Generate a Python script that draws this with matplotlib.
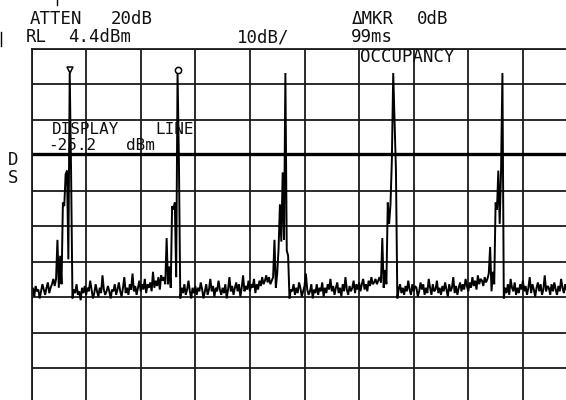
import numpy as np
import matplotlib.pyplot as plt
from matplotlib.lines import Line2D

# analyzer settings
ref_level = 4.4        # dBm, top graticule line
db_per_div = 10
display_line = -25.2   # dBm
n_div = 10
n_points = 401

# swept trace in dBm, one value per sweep point (0..400)
trace_dbm = [
    -64.5, -63.0, -65.5, -62.5, -64.0, -63.5, -66.0, -64.0, -62.0, -63.5,
    -65.0, -63.0, -61.5, -64.5, -63.0, -62.0, -60.5, -62.5, -60.5, -49.5,
    -63.0, -54.0, -62.0, -39.0, -40.0, -31.0, -30.0, -55.0, -2.5, -30.5,
    -66.0, -63.5, -64.5, -62.0, -65.0, -64.0, -66.5, -63.0, -64.5, -62.5,
    -65.0, -63.0, -64.0, -61.0, -63.5, -66.0, -64.5, -62.0, -64.0, -65.5,
    -63.0, -64.5, -59.5, -63.5, -65.0, -64.0, -62.5, -64.0, -66.0, -63.5,
    -64.0, -62.0, -65.0, -63.5, -61.5, -64.0, -65.5, -63.0, -60.0, -64.5,
    -63.0, -65.0, -62.0, -63.5, -59.0, -64.0, -62.5, -65.0, -63.0, -61.0,
    -64.0, -62.0, -63.5, -60.5, -64.5, -62.0, -63.0, -61.5, -64.0, -58.5,
    -63.0, -61.0, -62.5, -60.0, -63.5, -59.5, -61.0, -60.0, -62.0, -49.0,
    -62.0, -57.0, -63.0, -40.0, -41.0, -39.0, -60.0, -2.5, -27.5, -66.0,
    -63.0, -64.5, -62.0, -65.0, -63.5, -61.0, -64.0, -66.0, -63.0, -64.5,
    -62.5, -65.0, -63.0, -64.0, -61.5, -63.5, -66.0, -64.0, -62.0, -65.0,
    -63.5, -60.5, -64.0, -62.5, -65.5, -63.0, -64.0, -61.0, -63.5, -65.0,
    -63.0, -64.5, -62.0, -66.0, -63.5, -60.0, -64.0, -62.5, -65.0, -63.0,
    -61.5, -64.0, -62.0, -65.5, -63.0, -59.5, -64.0, -62.5, -63.5, -61.0,
    -64.0, -62.0, -63.0, -60.5, -64.5, -62.0, -63.5, -61.0, -62.5, -60.0,
    -62.0, -61.0, -59.5, -61.5, -60.0, -62.0, -61.0, -60.0, -49.5, -63.0,
    -59.0, -52.0, -39.5, -50.0, -30.5, -49.5, -2.5, -52.5, -54.0, -66.0,
    -63.5, -64.0, -62.0, -65.0, -63.0, -64.5, -61.5, -63.0, -65.5, -64.0,
    -62.5, -59.0, -63.5, -65.0, -64.0, -62.0, -66.0, -63.5, -64.5, -62.0,
    -65.0, -63.0, -64.0, -61.5, -65.5, -63.0, -64.5, -62.0, -63.5, -60.5,
    -64.0, -62.5, -65.0, -63.0, -61.5, -64.5, -63.0, -65.5, -62.0, -64.0,
    -60.0, -63.5, -65.0, -62.5, -64.0, -63.0, -61.0, -64.5, -62.0, -63.5,
    -61.5, -64.0, -62.0, -60.5, -63.5, -62.0, -64.0, -61.0, -62.5, -60.0,
    -62.0, -61.5, -60.5, -62.0, -61.0, -60.0, -61.5, -49.0, -63.0, -58.0,
    -62.0, -39.0, -45.0, -39.5, -27.0, -2.5, -16.0, -30.0, -66.0, -63.5,
    -62.0, -64.5, -63.0, -65.0, -62.5, -64.0, -61.0, -63.5, -65.0, -62.0,
    -64.0, -62.5, -63.0, -65.5, -64.0, -61.5, -63.5, -62.0, -65.0, -63.0,
    -64.5, -60.5, -63.0, -65.0, -62.0, -64.0, -63.5, -61.0, -64.5, -63.0,
    -65.0, -62.5, -64.0, -61.5, -63.5, -65.5, -62.0, -64.0, -63.0, -60.0,
    -64.5, -62.5, -65.0, -63.0, -61.5, -64.0, -62.0, -63.5, -60.5, -62.5,
    -64.0, -61.5, -63.0, -60.0, -62.5, -61.0, -63.5, -59.5, -62.0, -60.5,
    -61.0, -62.5, -60.0, -61.5, -60.5, -59.0, -51.5, -64.0, -58.5, -62.0,
    -39.0, -41.0, -30.0, -45.0, -30.0, -2.5, -66.0, -63.0, -64.5, -62.0,
    -65.0, -60.5, -63.0, -64.0, -61.5, -65.0, -63.0, -64.5, -62.0, -63.5,
    -61.0, -64.0, -62.5, -65.0, -63.0, -60.0, -64.5, -62.0, -63.5, -65.5,
    -63.0, -61.5, -64.0, -62.0, -65.0, -63.5, -59.5, -64.0, -62.5, -63.0,
    -65.0, -62.0, -64.0, -61.5, -63.5, -65.0, -62.5, -64.0, -60.5, -63.0,
    -64.5, -62.0, -63.5, -65.0, -62.0, -64.0, -63.0, -61.5, -64.0, -62.5,
    -63.5,
]

# delta marker pair (sweep point index) and their symbols
marker_idx = [28, 107]
marker_sym = ['v', 'o']

# annotation block: (text, x_center_px, baseline_px, size)
header_words = [
    ('ATTEN', 55.5, 24.3, 12.5), ('20dB', 131.5, 24.3, 12.5),
    ('\u0394MKR', 373.0, 24.3, 12.5), ('0dB', 433.0, 24.3, 12.5),
    ('RL', 36.0, 42.3, 12.5), ('4.4dBm', 99.5, 42.3, 12.5),
    ('10dB/', 263.0, 42.3, 12.5), ('99ms', 371.5, 42.3, 12.5),
    ('OCCUPANCY', 407.0, 62.0, 12.5),
    ('DISPLAY', 86.0, 134.5, 11.5), ('LINE', 174.5, 134.5, 11.5),
    ('-25.2', 72.5, 150.0, 11.5), ('dBm', 140.0, 150.0, 11.5),
    ('D', 13.0, 165.0, 12.5), ('S', 13.0, 183.0, 12.5),
]

W, H = 566, 400
fig = plt.figure(figsize=(W / 100, H / 100), dpi=100)
fig.patch.set_facecolor('white')

# graticule is 10 x 10 divisions, cut off on the right and bottom
left, top = 31.5, 48.5
div_w, div_h = 54.6, 35.5
ax = fig.add_axes([left / W, 1 - (top + n_div * div_h) / H,
                   n_div * div_w / W, n_div * div_h / H])
ax.set_xlim(0, n_points - 1)
ax.set_ylim(ref_level - n_div * db_per_div, ref_level)
ax.set_xticks(np.linspace(0, n_points - 1, n_div + 1))
ax.set_yticks(ref_level - db_per_div * np.arange(n_div + 1))
ax.tick_params(length=0, labelbottom=False, labelleft=False)
ax.grid(True, color='#1a1a1a', lw=1.3)
for s in ax.spines.values():
    s.set_color('#1a1a1a')
    s.set_linewidth(1.3)

ax.axhline(display_line, color='black', lw=2.4)

x = np.arange(len(trace_dbm))
ax.plot(x, trace_dbm, color='black', lw=1.4, solid_joinstyle='miter')

for i, m in zip(marker_idx, marker_sym):
    ax.plot(x[i], trace_dbm[i] + 0.8, marker=m, ms=5 if m == 'v' else 4.5,
            mfc='white', mec='black', mew=1.1)

mono = 'DejaVu Sans Mono'
for s, xc, yb, fs in header_words:
    fig.text(xc / W, 1 - yb / H, s, ha='center', va='baseline',
             fontsize=fs, family=mono, color='#111111')

# fragments of a frame at the top left corner
fig.add_artist(Line2D([57 / W, 57 / W], [1, 1 - 5 / H], color='black', lw=1))
fig.add_artist(Line2D([1 / W, 1 / W], [1 - 32 / H, 1 - 46 / H], color='black', lw=1))

fig.savefig('out.png', dpi=100, facecolor='white')
